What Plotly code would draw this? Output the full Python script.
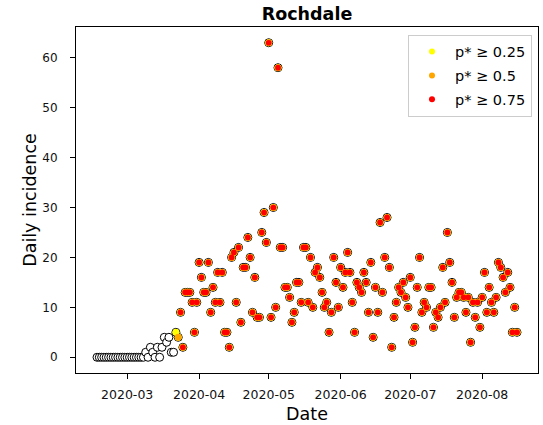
import pandas as pd
import plotly.graph_objects as go

# ---------------- data ----------------
start_date = "2020-02-17"          # first day of the daily series
incidence = [
    # 2020-02-17 .. 2020-03-07
    0, 0, 0, 0, 0, 0, 0, 0, 0, 0, 0, 0, 0, 0, 0, 0, 0, 0, 0, 0,
    # 2020-03-08 .. 2020-03-21
    0, 1, 0, 2, 1, 0, 2, 0, 2, 4, 3, 4, 1, 1,
    # 2020-03-22 .. 2020-03-31
    5, 4, 9, 2, 13, 13, 13, 11, 5, 11,
    # April
    19, 16, 13, 13, 19, 9, 14, 11, 17, 11, 17, 5, 5, 2,
    20, 21, 11, 22, 7, 18, 18, 24, 20, 9, 16, 8, 8, 25, 29, 23,
    # May
    63, 8, 30, 10, 58, 22, 22, 14, 14, 12, 7, 9, 15, 15, 11, 22,
    22, 11, 20, 10, 17, 18, 16, 13, 10, 11, 5, 9, 20, 15, 10,
    # June
    18, 14, 17, 21, 17, 11, 5, 15, 14, 13, 17, 15, 9, 19, 4,
    14, 9, 27, 13, 20, 28, 18, 2, 8, 11, 14, 13, 15, 12, 10,
    # July
    16, 3, 6, 14, 20, 9, 11, 10, 14, 14, 6, 9, 8, 10, 18, 11,
    25, 19, 15, 8, 12, 13, 13, 12, 9, 12, 3, 11, 8, 11, 6,
    # August
    12, 17, 9, 14, 11, 9, 12, 19, 18, 16, 13, 17, 14, 5, 10, 5,
]
first_p025 = "2020-03-22"   # from this day on p* >= 0.25
first_p050 = "2020-03-23"   # from this day on p* >= 0.5
first_p075 = "2020-03-24"   # from this day on p* >= 0.75
legend_labels = ["p* \u2265 0.25", "p* \u2265 0.5", "p* \u2265 0.75"]
tick_dates = ["2020-03-01", "2020-04-01", "2020-05-01",
              "2020-06-01", "2020-07-01", "2020-08-01"]
tick_labels = ["2020-03", "2020-04", "2020-05", "2020-06", "2020-07", "2020-08"]
y_ticks = [0, 10, 20, 30, 40, 50, 60]
title_text = "Rochdale"
x_title = "Date"
y_title = "Daily incidence"

# ---------------- build ----------------
dates = pd.date_range(start_date, periods=len(incidence), freq="D")
df = pd.DataFrame({"date": dates, "value": incidence})
colours = ["#ffff00", "#ffa500", "#ff0000"]
starts = [first_p025, first_p050, first_p075]
sizes = [7.0, 7.0, 5.7]

FONT = "DejaVu Sans"
fig = go.Figure()

# base: every day, white disc with black edge
fig.add_trace(go.Scatter(
    x=df["date"], y=df["value"], mode="markers", showlegend=False,
    marker=dict(size=8, color="white", line=dict(color="black", width=1)),
    hoverinfo="x+y"))

for lab, col, st, sz in zip(legend_labels, colours, starts, sizes):
    sub = df[df["date"] >= pd.Timestamp(st)]
    fig.add_trace(go.Scatter(
        x=sub["date"], y=sub["value"], mode="markers", showlegend=False,
        marker=dict(size=sz, color=col, line=dict(width=0)), name=lab))

# legend entries
for i, (lab, col) in enumerate(zip(legend_labels, colours)):
    fig.add_trace(go.Scatter(
        x=[None], y=[None], mode="markers", name=lab, legendgroup=f"g{i}",
        marker=dict(size=6, color=col, line=dict(width=0))))

span = dates[-1] - dates[0]
x_range = [(dates[0] - 0.05 * span).isoformat(), (dates[-1] + 0.05 * span).isoformat()]
ymax = max(incidence)
y_range = [-0.05 * ymax, 1.05 * ymax]

fig.update_layout(
    width=543, height=425,
    margin=dict(l=76, r=5, t=27, b=52),
    paper_bgcolor="white", plot_bgcolor="white",
    font=dict(family=FONT, color="#000000"),
    title=dict(text=title_text, x=0.5, xref="paper", xanchor="center",
               y=1 - 14 / 425, yref="container", yanchor="middle",
               font=dict(family=FONT, size=17.5, weight="bold", color="black")),
    showlegend=True,
    legend=dict(x=0.987, y=0.978, xanchor="right", yanchor="top",
                bgcolor="rgba(255,255,255,0.9)", bordercolor="#cccccc", borderwidth=1,
                font=dict(family=FONT, size=14.5, color="black"),
                tracegroupgap=2, itemwidth=36),
)
fig.update_xaxes(
    type="date", range=x_range, tickmode="array",
    tickvals=tick_dates, ticktext=tick_labels,
    showgrid=False, zeroline=False,
    showline=True, linecolor="black", linewidth=1, mirror=True,
    ticks="outside", ticklen=5, tickcolor="black", tickwidth=1,
    tickfont=dict(family=FONT, size=12.5, color="#111111"),
    ticklabelstandoff=5,
    title=dict(text=x_title, font=dict(family=FONT, size=17.5, color="black"), standoff=6),
    automargin=False,
)
fig.update_yaxes(
    range=y_range, tickmode="array", tickvals=y_ticks,
    showgrid=False, zeroline=False,
    showline=True, linecolor="black", linewidth=1, mirror=True,
    ticks="outside", ticklen=5, tickcolor="black", tickwidth=1,
    tickfont=dict(family=FONT, size=12, color="#111111"),
    ticklabelstandoff=10,
    title=dict(text=y_title, font=dict(family=FONT, size=17.5, color="black"), standoff=1),
    automargin=False,
)

fig.write_html("out.html")
